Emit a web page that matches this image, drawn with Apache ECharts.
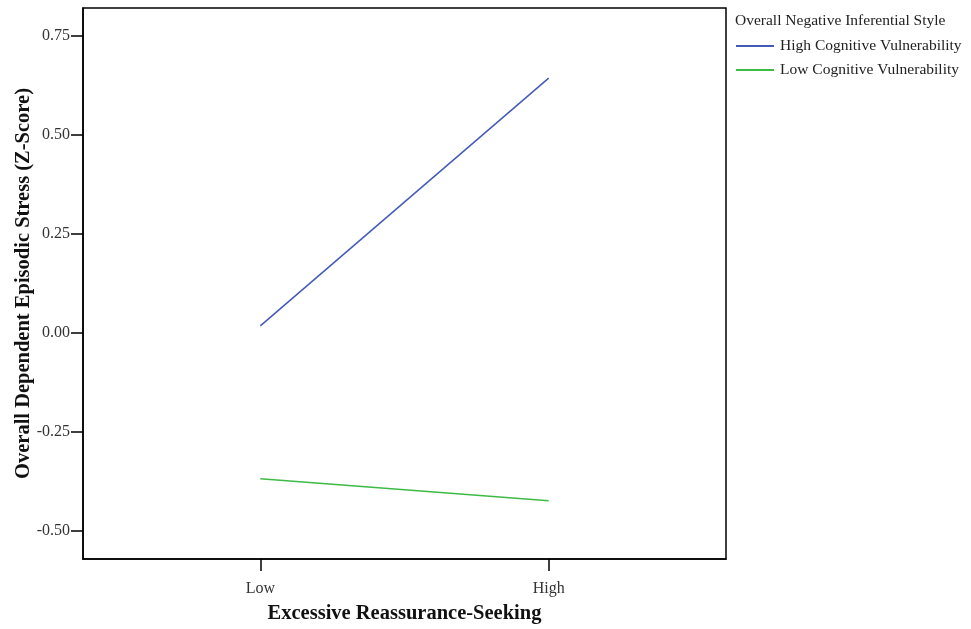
<!DOCTYPE html>
<html>
<head>
<meta charset="utf-8">
<script src="https://cdn.jsdelivr.net/npm/echarts@6/dist/echarts.min.js"></script>
<style>
  html, body { margin: 0; padding: 0; background: #fff; }
  #chart { width: 971px; height: 629px; }
</style>
</head>
<body>
<div id="chart"></div>
<script>
const xLabels = ["Low", "High"];
const xPos = [0, 1];
const yTicks = [-0.5, -0.25, 0, 0.25, 0.5, 0.75];
const seriesNames = ["High Cognitive Vulnerability", "Low Cognitive Vulnerability"];
const highVuln = [0.018, 0.644];
const lowVuln = [-0.368, -0.424];

const font = "Liberation Serif";

const chart = echarts.init(document.querySelector("#chart"));

const getOption = () => {
  return {
    backgroundColor: "#fff",
    animation: false,
    textStyle: { fontFamily: font },
    title: {
      text: "Overall Negative Inferential Style",
      left: 730,
      top: 8,
      textStyle: { fontFamily: font, fontSize: 15.5, fontWeight: "normal", color: "#222" }
    },
    legend: {
      orient: "vertical",
      left: 731,
      top: 33,
      itemWidth: 38,
      itemHeight: 2,
      itemGap: 8,
      icon: "rect",
      textStyle: { fontFamily: font, fontSize: 15.5, color: "#222", padding: [0, 0, 0, 1] },
      data: seriesNames
    },
    grid: {
      left: 83,
      right: 245,
      top: 8,
      bottom: 70,
      outerBoundsMode: "none",
      show: true,
      borderColor: "#000",
      borderWidth: 1.5
    },
    xAxis: {
      type: "value",
      min: -0.615,
      max: 1.615,
      name: "Excessive Reassurance-Seeking",
      nameLocation: "middle",
      nameGap: 44,
      nameMoveOverlap: false,
      nameTextStyle: { fontFamily: font, fontSize: 20.5, fontWeight: "bold", color: "#111" },
      splitLine: { show: false },
      axisLine: { onZero: false, lineStyle: { color: "#000", width: 1.5 } },
      axisTick: { show: true, customValues: xPos, length: 12, lineStyle: { color: "#000", width: 1.5 } },
      axisLabel: {
        customValues: xPos,
        margin: 22,
        fontFamily: font,
        fontSize: 16,
        color: "#333",
        formatter: (v) => xLabels[xPos.indexOf(v)] || ""
      }
    },
    yAxis: {
      type: "value",
      min: -0.571,
      max: 0.821,
      name: "Overall Dependent Episodic Stress (Z-Score)",
      nameLocation: "middle",
      nameGap: 49,
      nameMoveOverlap: false,
      nameTextStyle: { fontFamily: font, fontSize: 20.5, fontWeight: "bold", color: "#111" },
      splitLine: { show: false },
      axisLine: { onZero: false, lineStyle: { color: "#000", width: 1.5 } },
      axisTick: { show: true, customValues: yTicks, length: 12, lineStyle: { color: "#000", width: 1.5 } },
      axisLabel: {
        customValues: yTicks,
        margin: 13,
        fontFamily: font,
        fontSize: 16,
        color: "#333",
        formatter: (v) => v.toFixed(2)
      }
    },
    series: [
      {
        name: seriesNames[0],
        type: "line",
        data: xPos.map((x, i) => [x, highVuln[i]]),
        symbol: "none",
        itemStyle: { color: "#4359b8" },
        lineStyle: { color: "#4359b8", width: 1.5 }
      },
      {
        name: seriesNames[1],
        type: "line",
        data: xPos.map((x, i) => [x, lowVuln[i]]),
        symbol: "none",
        itemStyle: { color: "#3dbb45" },
        lineStyle: { color: "#3dbb45", width: 1.5 }
      }
    ]
  };
};

chart.setOption(getOption());
</script>
</body>
</html>
